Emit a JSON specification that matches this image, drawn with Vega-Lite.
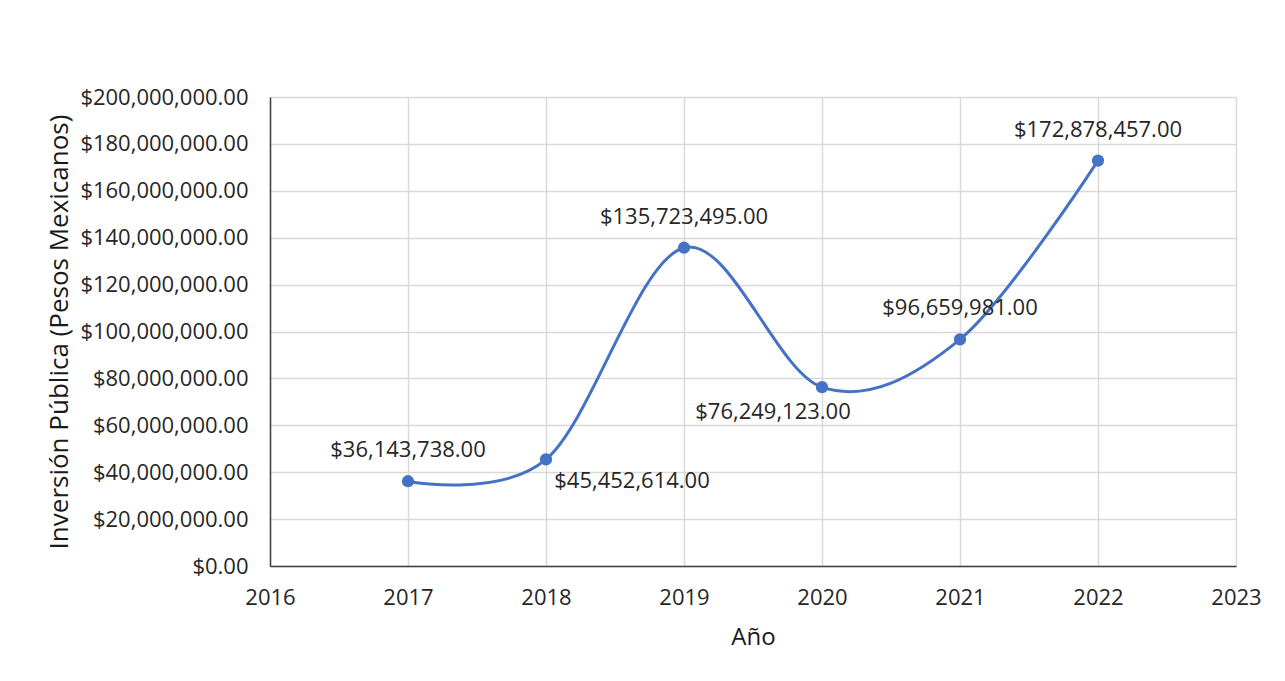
{
  "$schema": "https://vega.github.io/schema/vega-lite/v6.json",
  "width": 966,
  "height": 469,
  "autosize": {"type": "none"},
  "padding": {"left": 270, "top": 97, "right": 49, "bottom": 115},
  "background": "white",
  "config": {
    "view": {"stroke": null},
    "font": "Open Sans",
    "axis": {
      "labelFont": "Open Sans",
      "titleFont": "Open Sans",
      "labelFontSize": 22,
      "titleFontSize": 24,
      "labelColor": "#262626",
      "titleColor": "#1a1a1a",
      "titleFontWeight": "normal",
      "gridColor": "#d9d9d9",
      "gridWidth": 1.5,
      "domainColor": "#404040",
      "domainWidth": 1.5,
      "ticks": false
    }
  },
  "data": {
    "values": [
      {"year": 2017, "value": 36143738},
      {"year": 2018, "value": 45452614},
      {"year": 2019, "value": 135723495},
      {"year": 2020, "value": 76249123},
      {"year": 2021, "value": 96659981},
      {"year": 2022, "value": 172878457}
    ]
  },
  "encoding": {
    "x": {
      "field": "year",
      "type": "quantitative",
      "scale": {"domain": [2016, 2023], "nice": false, "zero": false},
      "axis": {
        "values": [2016, 2017, 2018, 2019, 2020, 2021, 2022, 2023],
        "format": "d",
        "title": "Año",
        "labelPadding": 21,
        "titlePadding": 17,
        "labelFlush": false
      }
    },
    "y": {
      "field": "value",
      "type": "quantitative",
      "scale": {"domain": [0, 200000000], "nice": false},
      "axis": {
        "values": [0, 20000000, 40000000, 60000000, 80000000, 100000000, 120000000, 140000000, 160000000, 180000000, 200000000],
        "format": "$,.2f",
        "title": "Inversión Pública (Pesos Mexicanos)",
        "titleFontSize": 26,
        "labelPadding": 22,
        "titlePadding": 7
      }
    }
  },
  "layer": [
    {
      "mark": {"type": "line", "interpolate": "cardinal", "tension": 0, "color": "#4472C4", "strokeWidth": 3}
    },
    {
      "mark": {"type": "point", "filled": true, "opacity": 1, "color": "#4472C4", "size": 150}
    },
    {
      "transform": [{"filter": "datum.year != 2018 && datum.year != 2020"}],
      "mark": {"type": "text", "dy": -31, "fontSize": 22, "color": "#262626", "font": "Open Sans"},
      "encoding": {"text": {"field": "value", "type": "quantitative", "format": "$,.2f"}}
    },
    {
      "transform": [{"filter": "datum.year == 2018"}],
      "mark": {"type": "text", "dx": 86, "dy": 22, "fontSize": 22, "color": "#262626", "font": "Open Sans"},
      "encoding": {"text": {"field": "value", "type": "quantitative", "format": "$,.2f"}}
    },
    {
      "transform": [{"filter": "datum.year == 2020"}],
      "mark": {"type": "text", "dx": -49, "dy": 25, "fontSize": 22, "color": "#262626", "font": "Open Sans"},
      "encoding": {"text": {"field": "value", "type": "quantitative", "format": "$,.2f"}}
    }
  ]
}
